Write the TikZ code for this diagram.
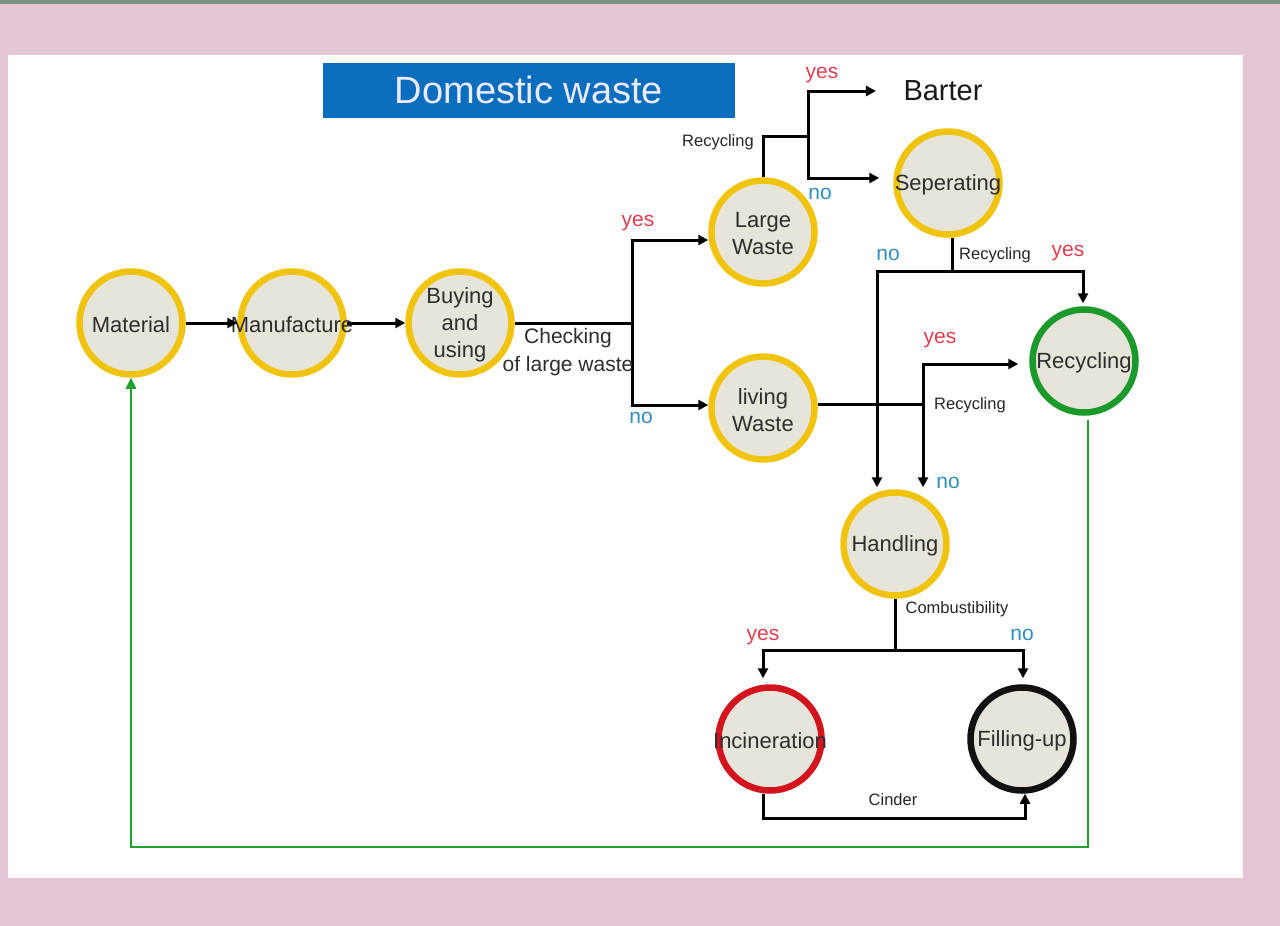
\documentclass[tikz,border=0pt]{standalone}
\usepackage{fontspec}
\setmainfont{Liberation Sans}
\usetikzlibrary{arrows.meta}

\definecolor{framepink}{HTML}{E5C6D6}
\definecolor{topstrip}{HTML}{7D9180}
\definecolor{ringyellow}{HTML}{F0C30F}
\definecolor{ringgreen}{HTML}{1B9A2B}
\definecolor{ringred}{HTML}{D3141E}
\definecolor{ringblack}{HTML}{111111}
\definecolor{disc}{HTML}{E7E5D9}
\definecolor{titleblue}{HTML}{0B6DBE}
\definecolor{yescol}{HTML}{E0404E}
\definecolor{nocol}{HTML}{2E8FBF}
\definecolor{labelgray}{HTML}{2E2E2E}
\definecolor{loopgreen}{HTML}{22A02E}

\begin{document}
\begin{tikzpicture}[x=1pt,y=-1pt,
  stationtext/.style={font=\fontsize{22}{27}\selectfont, text=labelgray, align=center, inner sep=0pt},
  station/.style={circle, minimum size=103pt, inner sep=0pt, line width=6.5pt,
    draw=ringyellow, fill=disc, label={[stationtext, yshift=-2pt]center:{#1}}},
  line/.style={line width=3pt, draw=black},
  flow/.style={line, -{Triangle[length=10pt,width=10pt]}},
  loopback/.style={line width=2.5pt, draw=loopgreen, -{Triangle[length=11pt,width=10pt]}},
  yeslbl/.style={font=\fontsize{21}{21}\selectfont, text=yescol, inner sep=0pt},
  nolbl/.style={font=\fontsize{21}{21}\selectfont, text=nocol, inner sep=0pt},
  small/.style={font=\fontsize{16.5}{16.5}\selectfont, text=black!85, inner sep=0pt},
  titlebox/.style={fill=titleblue, minimum width=412pt, minimum height=55pt,
    text=white!92!blue, font=\fontsize{38}{38}\selectfont, inner sep=0pt}
]
% page frame
\useasboundingbox (0,0) rectangle (1280,926);
\fill[framepink] (0,0) rectangle (1280,926);
\fill[topstrip] (0,0) rectangle (1280,4);
\fill[white] (8,55) rectangle (1243,878);

% title and end point
\node[titlebox] (ttl) at (529,90) {Domestic waste};
\node[font=\fontsize{29}{29}\selectfont, text=black!90] (bar) at (943,91) {Barter};

% stations
\node[station={Material}] (mat) at (131,323) {};
\node[station={Manufacture}] (man) at (292,323) {};
\node[station={Buying\\and\\using}] (buy) at (460,323) {};
\node[station={Large\\Waste}] (lw) at (763,232) {};
\node[station={living\\Waste}] (liv) at (763,408) {};
\node[station={Seperating}] (sep) at (948,183) {};
\node[station={Recycling}, draw=ringgreen] (rec) at (1084,361) {};
\node[station={Handling}] (hnd) at (895,544) {};
\node[station={Incineration}, draw=ringred] (inc) at (770,739) {};
\node[station={Filling-up}, draw=ringblack] (fil) at (1022,739) {};

% junctions
\coordinate (chk) at (632,323);
\coordinate (lwj) at (808,136);
\coordinate (sj) at (952,271);
\coordinate (lj) at (923,404);
\coordinate (hj) at (895,650);

% production chain
\draw[flow] (mat) -- (man);
\draw[flow] (man) -- (buy);

% checking of large waste
\draw[line] (buy) -- (chk);
\draw[flow] (chk) |- ([yshift=-8pt]lw.west);
\draw[flow] (chk) |- ([yshift=3pt]liv.west);
\node[font=\fontsize{21}{28}\selectfont, text=labelgray, align=center, inner sep=0pt] (chkl) at (568,352) {Checking\\of large waste};
\node[yeslbl] (y1) at (638,223) {yes};
\node[nolbl] (n1) at (641,418) {no};

% large waste: recycling?
\draw[line] (lw.north) |- (lwj);
\draw[flow] (lwj) |- ([xshift=-24pt]bar.west);
\draw[flow] (lwj) |- ([xshift=-14pt,yshift=5pt]sep.west);
\node[small] (r1) at (718,142) {Recycling};
\node[yeslbl] (y2) at (822,75) {yes};
\node[nolbl] (n2) at (820,194) {no};

% seperating: recycling?
\draw[line] (sj |- sep.south) -- (sj);
\draw[flow] (sj) -| ([xshift=-18pt,yshift=2pt]hnd.north);
\draw[flow] (sj) -| ([xshift=-1pt,yshift=3pt]rec.north);
\node[small] (r2) at (995,255) {Recycling};
\node[nolbl] (n3) at (888,255) {no};
\node[yeslbl] (y3) at (1068,253) {yes};

% living waste: recycling?
\draw[line] (liv.east |- lj) -- (lj);
\draw[flow] (lj) |- ([xshift=-11pt,yshift=-3pt]rec.west);
\draw[flow] (lj) -- ([xshift=28pt,yshift=2pt]hnd.north);
\node[small] (r3) at (970,405) {Recycling};
\node[yeslbl] (y4) at (940,340) {yes};
\node[nolbl] (n4) at (948,483) {no};

% handling: combustibility?
\draw[line] (hnd.south) -- (hj);
\draw[flow] (hj) -| ([xshift=-7pt,yshift=6pt]inc.north);
\draw[flow] (hj) -| ([xshift=1pt,yshift=6pt]fil.north);
\node[small] (cb) at (957,609) {Combustibility};
\node[yeslbl] (y5) at (763,637) {yes};
\node[nolbl] (n5) at (1022,635) {no};

% cinder goes to filling-up
\draw[flow] ([xshift=-7pt]inc.south) -- ++(0,25) -| ([xshift=3pt]fil.south);
\node[small] (cd) at (893,800) {Cinder};

% recycled material returns to the start
\draw[loopback] ([xshift=4pt,yshift=-4pt]rec.south) -- ++(0,427) -| (mat.south);
\end{tikzpicture}
\end{document}
